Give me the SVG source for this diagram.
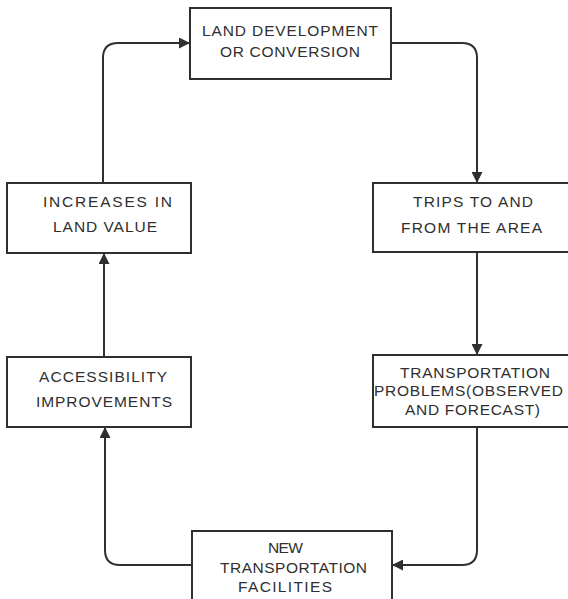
<svg xmlns="http://www.w3.org/2000/svg" width="568" height="599" viewBox="0 0 568 599">
<style>
.box{fill:#fff;stroke:#2f2f2f;stroke-width:2}
.t{font-family:"Liberation Sans",Arial,sans-serif;font-size:15.5px;fill:#2f2f2f}
.c{fill:none;stroke:#2f2f2f;stroke-width:2}
</style>
<defs>
<marker id="ah" viewBox="0 0 10 10" refX="10" refY="5" markerWidth="11" markerHeight="11" markerUnits="userSpaceOnUse" orient="auto">
<path d="M0,0 L10,5 L0,10 z" fill="#2f2f2f"/>
</marker>
</defs>
<rect width="568" height="599" fill="#fff"/>
<g id="connectors">
<path class="c" d="M103,183 V58 Q103,43 118,43 H190" marker-end="url(#ah)"/>
<path class="c" d="M391,43 H462 Q477,43 477,58 V183" marker-end="url(#ah)"/>
<path class="c" d="M477,252 V355" marker-end="url(#ah)"/>
<path class="c" d="M477,427 V550 Q477,565 462,565 H392" marker-end="url(#ah)"/>
<path class="c" d="M192,565 H120 Q105,565 105,550 V427" marker-end="url(#ah)"/>
<path class="c" d="M104,357 V253" marker-end="url(#ah)"/>
</g>
<g id="n1">
<rect class="box" x="190" y="8" width="201" height="71"/>
<text class="t" x="202" y="36" textLength="176" lengthAdjust="spacing">LAND DEVELOPMENT</text>
<text class="t" x="220" y="57" textLength="140" lengthAdjust="spacing">OR CONVERSION</text>
</g>
<g id="n2">
<rect class="box" x="7" y="183" width="184" height="70"/>
<text class="t" x="43" y="207" textLength="129" lengthAdjust="spacing">INCREASES IN</text>
<text class="t" x="53" y="232" textLength="104" lengthAdjust="spacing">LAND VALUE</text>
</g>
<g id="n3">
<rect class="box" x="373" y="183" width="205" height="69"/>
<text class="t" x="413" y="207" textLength="120" lengthAdjust="spacing">TRIPS TO AND</text>
<text class="t" x="401" y="233" textLength="141" lengthAdjust="spacing">FROM THE AREA</text>
</g>
<g id="n4">
<rect class="box" x="7" y="357" width="184" height="70"/>
<text class="t" x="39" y="382" textLength="128" lengthAdjust="spacing">ACCESSIBILITY</text>
<text class="t" x="36" y="407" textLength="136" lengthAdjust="spacing">IMPROVEMENTS</text>
</g>
<g id="n5">
<rect class="box" x="373" y="355" width="205" height="72"/>
<text class="t" x="400" y="378" textLength="150" lengthAdjust="spacing">TRANSPORTATION</text>
<text class="t" x="374" y="396" textLength="189" lengthAdjust="spacing">PROBLEMS(OBSERVED</text>
<text class="t" x="405" y="415" textLength="135" lengthAdjust="spacing">AND FORECAST)</text>
</g>
<g id="n6">
<rect class="box" x="192" y="531" width="200" height="80"/>
<text class="t" x="268" y="553" textLength="35" lengthAdjust="spacing">NEW</text>
<text class="t" x="220" y="573" textLength="147" lengthAdjust="spacing">TRANSPORTATION</text>
<text class="t" x="238" y="592" textLength="94" lengthAdjust="spacing">FACILITIES</text>
</g>
</svg>
